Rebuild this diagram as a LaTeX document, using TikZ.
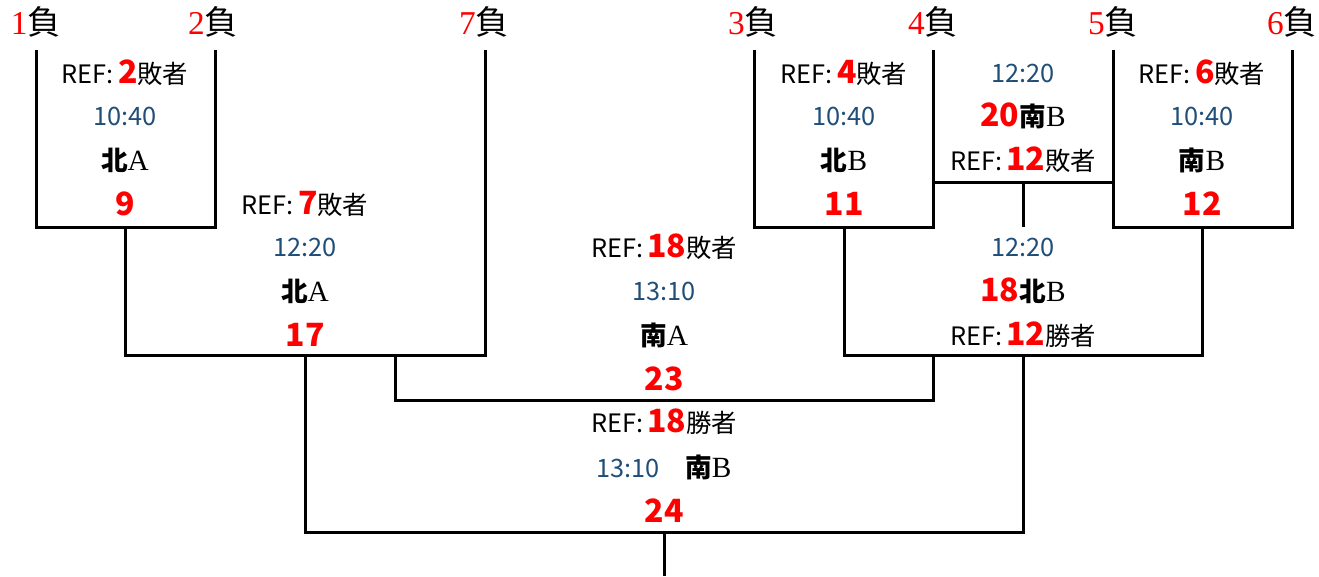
\documentclass[tikz,border=0pt]{standalone}
\usepackage{fontspec}
\setmainfont{Noto Sans CJK JP}
\newfontfamily\serifnum{Liberation Serif}
\usepackage{tikz}

\definecolor{timeblue}{RGB}{31,78,121}
\newcommand{\rnum}[1]{{\fontsize{24}{24}\selectfont\bfseries\color{red}#1}}
\newcommand{\lose}[1]{{\serifnum\color{red}#1}負}
\newcommand{\court}[2]{{\fontsize{20}{20}\selectfont\bfseries #1}{\fontsize{22}{22}\selectfont\serifnum #2}}

\begin{document}
\begin{tikzpicture}[x=0.75pt,y=0.75pt,yscale=-1,xscale=1,
  txt/.style={inner sep=0.75pt,font=\fontsize{19}{20}\selectfont},
  tm/.style={txt,text=timeblue},
  top/.style={inner sep=0.75pt,font=\fontsize{25}{26}\selectfont},
  every path/.style={line width=2.25pt}]
\path[use as bounding box] (0,0) rectangle (1319,576);

%Straight Lines [id:match9] 
\draw    (36,50) -- (36,227) -- (215,227) -- (215,50) ;
%Straight Lines [id:match17] 
\draw    (125,227) -- (125,355) -- (485,355) -- (485,50) ;
%Straight Lines [id:match11] 
\draw    (754,50) -- (754,227) -- (933,227) -- (933,50) ;
%Straight Lines [id:match12] 
\draw    (1113,50) -- (1113,227) -- (1292,227) -- (1292,50) ;
%Straight Lines [id:match20] 
\draw    (933,182) -- (1113,182) ;
\draw    (1023,182) -- (1023,227) ;
%Straight Lines [id:match18] 
\draw    (844,227) -- (844,355) -- (1202,355) -- (1202,227) ;
%Straight Lines [id:match23] 
\draw    (395,355) -- (395,400) -- (933,400) -- (933,355) ;
%Straight Lines [id:match24] 
\draw    (305,355) -- (305,532) -- (1023,532) -- (1023,355) ;
\draw    (664,532) -- (664,576) ;

% Text Node
\draw (36,22) node (l1) [top]    {\lose{1}};
% Text Node
\draw (213,22) node (l2) [top]    {\lose{2}};
% Text Node
\draw (484,22) node (l7) [top]    {\lose{7}};
% Text Node
\draw (753,22) node (l3) [top]    {\lose{3}};
% Text Node
\draw (933,22) node (l4) [top]    {\lose{4}};
% Text Node
\draw (1113,22) node (l5) [top]    {\lose{5}};
% Text Node
\draw (1292,22) node (l6) [top]    {\lose{6}};

% Text Node
\draw (125,73) node (ref9) [txt]    {REF:\,\rnum{2}敗者};
% Text Node
\draw (125,116) node (time9) [tm]    {10:40};
% Text Node
\draw (125,160) node (court9) [txt]    {\court{北}{A}};
% Text Node
\draw (125,204) node (no9) [txt]    {\rnum{9}};

% Text Node
\draw (844,73) node (ref11) [txt]    {REF:\,\rnum{4}敗者};
% Text Node
\draw (844,116) node (time11) [tm]    {10:40};
% Text Node
\draw (844,160) node (court11) [txt]    {\court{北}{B}};
% Text Node
\draw (844,204) node (no11) [txt]    {\rnum{11}};

% Text Node
\draw (1202,73) node (ref12) [txt]    {REF:\,\rnum{6}敗者};
% Text Node
\draw (1202,116) node (time12) [tm]    {10:40};
% Text Node
\draw (1202,160) node (court12) [txt]    {\court{南}{B}};
% Text Node
\draw (1202,204) node (no12) [txt]    {\rnum{12}};

% Text Node
\draw (1023,73) node (time20) [tm]    {12:20};
% Text Node
\draw (1023,116) node (court20) [txt]    {\rnum{20}\court{南}{B}};
% Text Node
\draw (1023,160) node (ref20) [txt]    {REF:\,\rnum{12}敗者};

% Text Node
\draw (305,204) node (ref17) [txt]    {REF:\,\rnum{7}敗者};
% Text Node
\draw (305,247) node (time17) [tm]    {12:20};
% Text Node
\draw (305,291) node (court17) [txt]    {\court{北}{A}};
% Text Node
\draw (305,335) node (no17) [txt]    {\rnum{17}};

% Text Node
\draw (1023,247) node (time18) [tm]    {12:20};
% Text Node
\draw (1023,291) node (court18) [txt]    {\rnum{18}\court{北}{B}};
% Text Node
\draw (1023,335) node (ref18) [txt]    {REF:\,\rnum{12}勝者};

% Text Node
\draw (664,247) node (ref23) [txt]    {REF:\,\rnum{18}敗者};
% Text Node
\draw (664,291) node (time23) [tm]    {13:10};
% Text Node
\draw (664,335) node (court23) [txt]    {\court{南}{A}};
% Text Node
\draw (664,379) node (no23) [txt]    {\rnum{23}};

% Text Node
\draw (664,422) node (ref24) [txt]    {REF:\,\rnum{18}勝者};
% Text Node
\draw (664,467) node (court24) [txt]    {\textcolor{timeblue}{13:10}\quad\court{南}{B}};
% Text Node
\draw (664,511) node (no24) [txt]    {\rnum{24}};

\end{tikzpicture}
\end{document}
